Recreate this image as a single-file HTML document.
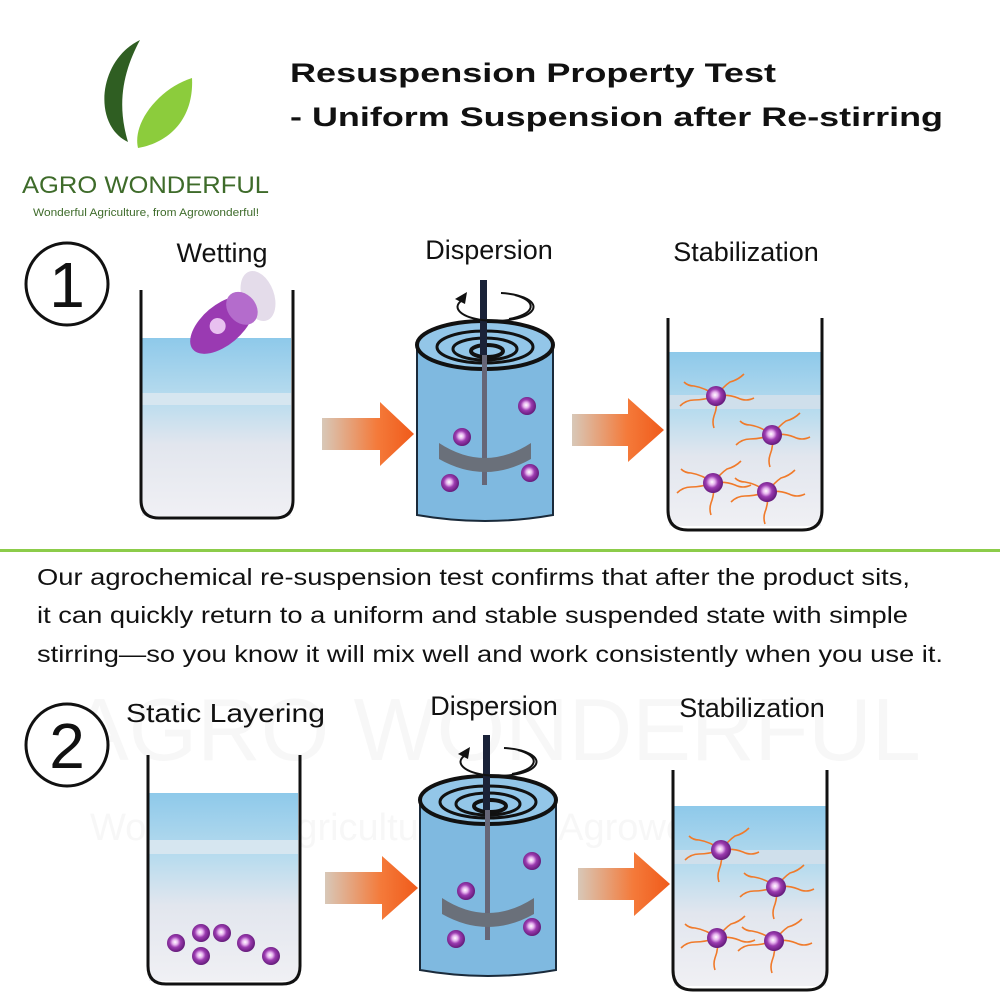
<!DOCTYPE html>
<html><head><meta charset="utf-8"><style>
body{margin:0;background:#fff;}
svg{display:block;font-family:"Liberation Sans",sans-serif;}
</style></head><body>
<svg width="1000" height="1000" viewBox="0 0 1000 1000" xmlns="http://www.w3.org/2000/svg">
<defs>
<radialGradient id="ball" cx="0.45" cy="0.45" r="0.6"><stop offset="0" stop-color="#fff"/><stop offset="0.25" stop-color="#e6b3ee"/><stop offset="0.5" stop-color="#9b3bb0"/><stop offset="1" stop-color="#5a1470"/></radialGradient>
<linearGradient id="arr" x1="0" x2="1"><stop offset="0" stop-color="#d8c8b8"/><stop offset="0.6" stop-color="#f47a3a"/><stop offset="1" stop-color="#f05a1a"/></linearGradient>
<linearGradient id="water" x1="0" y1="0" x2="0" y2="1"><stop offset="0" stop-color="#8ec9ea"/><stop offset="0.35" stop-color="#b9dcee"/><stop offset="0.6" stop-color="#e2e6ee"/><stop offset="1" stop-color="#f0f0f4"/></linearGradient>
<g id="p"><g fill="none" stroke="#f07a2a" stroke-width="1.6"><path d="M0 0 q-10 -8 -22 -10 q-6 0 -10 -4"/><path d="M0 0 q8 -10 14 -14 q8 -2 14 -8"/><path d="M0 0 q12 -2 22 2 q8 4 16 0"/><path d="M0 0 q-12 4 -22 4 q-8 0 -14 6"/><path d="M0 0 q2 10 -2 20 q-2 6 0 12"/></g><circle r="10" fill="url(#ball)"/></g>
<circle id="b" r="9" fill="url(#ball)"/>
<g id="cyl">
<path d="M0 0 v170 q68 12 136 0 v-170 z" fill="#7fb9e0" stroke="#1a2a3a" stroke-width="2"/>
<ellipse cx="68" cy="0" rx="68" ry="24" fill="#93c6e8" stroke="#111" stroke-width="4"/>
<ellipse cx="68" cy="2" rx="48" ry="16" fill="none" stroke="#111" stroke-width="3"/>
<ellipse cx="68" cy="4" rx="32" ry="11" fill="none" stroke="#111" stroke-width="3"/>
<ellipse cx="70" cy="6" rx="16" ry="6" fill="none" stroke="#111" stroke-width="4"/>
<rect x="65" y="10" width="5" height="130" fill="#667"/>
<path d="M22 98 q46 30 92 0 v16 q-46 26 -92 0 z" fill="#6a707a"/>
<rect x="63" y="-65" width="7" height="75" fill="#1a2238"/>
<path d="M44 -44 a38 14 0 1 0 40 -8" fill="none" stroke="#111" stroke-width="2"/>
<path d="M98 -50 a38 14 0 0 1 -6 24" fill="none" stroke="#111" stroke-width="2"/>
<path d="M38 -46 l12 -7 l-2 12 z" fill="#111"/>
</g>
</defs>
<!-- watermark -->
<text x="70" y="760" font-size="88" fill="#f7f7f7">AGRO WONDERFUL</text>
<text x="90" y="840" font-size="38" fill="#f7f7f7">Wonderful Agriculture, from Agrowonderful!</text>
<!-- logo -->
<path d="M140 40 C98 60 92 125 128 142 C116 102 124 70 140 40z" fill="#2f5e22"/>
<path d="M192 78 C160 88 132 122 138 148 C172 142 194 116 192 78z" fill="#8ccc3c"/>
<text x="22" y="193" font-size="24" fill="#3e6b2a" textLength="247" lengthAdjust="spacingAndGlyphs">AGRO WONDERFUL</text>
<text x="33" y="216" font-size="11" fill="#3e6b2a" textLength="226" lengthAdjust="spacingAndGlyphs">Wonderful Agriculture, from Agrowonderful!</text>
<text x="290" y="82" font-size="27" font-weight="bold" fill="#111" textLength="486" lengthAdjust="spacingAndGlyphs">Resuspension Property Test</text>
<text x="290" y="126" font-size="27" font-weight="bold" fill="#111" textLength="653" lengthAdjust="spacingAndGlyphs">- Uniform Suspension after Re-stirring</text>
<!-- section 1 -->
<circle cx="67" cy="284" r="41" fill="#fff" stroke="#111" stroke-width="3"/>
<text x="67" y="307" font-size="64" text-anchor="middle" fill="#111">1</text>
<text x="222" y="262" font-size="27" text-anchor="middle" fill="#111">Wetting</text>
<text x="489" y="259" font-size="27" text-anchor="middle" fill="#111">Dispersion</text>
<text x="746" y="261" font-size="27" text-anchor="middle" fill="#111">Stabilization</text>
<rect x="142" y="338" width="149" height="178" fill="url(#water)"/>
<rect x="142" y="393" width="149" height="12" fill="#d6e6f0"/>
<path d="M141 290 V500 q0 18 18 18 h116 q18 0 18 -18 V290" fill="none" stroke="#111" stroke-width="3"/>
<ellipse cx="258" cy="296" rx="16" ry="26" fill="#e4dcea" transform="rotate(-20 258 296)"/>
<g transform="translate(222 325) rotate(50)"><ellipse cx="0" cy="0" rx="20" ry="38" fill="#9a3ab2"/><ellipse cx="0" cy="-26" rx="18" ry="14" fill="#b46ccc"/><circle cx="-2" cy="4" r="8" fill="#e8c0f0"/></g>
<polygon points="322,418 380,418 380,402 414,434 380,466 380,450 322,450" fill="url(#arr)"/>
<use href="#cyl" x="417" y="345"/>
<use href="#b" x="527" y="406"/><use href="#b" x="462" y="437"/><use href="#b" x="530" y="473"/><use href="#b" x="450" y="483"/>
<polygon points="572,414 628,414 628,398 664,430 628,462 628,446 572,446" fill="url(#arr)"/>
<rect x="669" y="352" width="152" height="174" fill="url(#water)"/>
<rect x="669" y="395" width="152" height="14" fill="#cfdfeb"/>
<path d="M668 318 V510 q0 20 20 20 h114 q20 0 20 -20 V318" fill="none" stroke="#111" stroke-width="3"/>
<use href="#p" x="716" y="396"/><use href="#p" x="772" y="435"/><use href="#p" x="713" y="483"/><use href="#p" x="767" y="492"/>
<rect x="0" y="549" width="1000" height="3" fill="#8ccc4a"/>
<g font-size="23" fill="#111">
<text x="37" y="585" textLength="873" lengthAdjust="spacingAndGlyphs">Our agrochemical re-suspension test confirms that after the product sits,</text>
<text x="37" y="623" textLength="871" lengthAdjust="spacingAndGlyphs">it can quickly return to a uniform and stable suspended state with simple</text>
<text x="37" y="662" textLength="906" lengthAdjust="spacingAndGlyphs">stirring—so you know it will mix well and work consistently when you use it.</text>
</g>
<!-- section 2 -->
<circle cx="67" cy="745" r="41" fill="#fff" stroke="#111" stroke-width="3"/>
<text x="67" y="768" font-size="64" text-anchor="middle" fill="#111">2</text>
<text x="126" y="722" font-size="26" fill="#111" textLength="199" lengthAdjust="spacingAndGlyphs">Static Layering</text>
<text x="494" y="715" font-size="27" text-anchor="middle" fill="#111">Dispersion</text>
<text x="752" y="717" font-size="27" text-anchor="middle" fill="#111">Stabilization</text>
<rect x="149" y="793" width="149" height="188" fill="url(#water)"/>
<rect x="149" y="840" width="149" height="14" fill="#d6e6f0"/>
<path d="M148 755 V966 q0 18 18 18 h116 q18 0 18 -18 V755" fill="none" stroke="#111" stroke-width="3"/>
<use href="#b" x="176" y="943"/><use href="#b" x="201" y="933"/><use href="#b" x="222" y="933"/><use href="#b" x="246" y="943"/><use href="#b" x="201" y="956"/><use href="#b" x="271" y="956"/>
<polygon points="325,872 382,872 382,856 418,888 382,920 382,904 325,904" fill="url(#arr)"/>
<use href="#cyl" x="420" y="800"/>
<use href="#b" x="532" y="861"/><use href="#b" x="466" y="891"/><use href="#b" x="532" y="927"/><use href="#b" x="456" y="939"/>
<polygon points="578,868 634,868 634,852 670,884 634,916 634,900 578,900" fill="url(#arr)"/>
<rect x="674" y="806" width="152" height="180" fill="url(#water)"/>
<rect x="674" y="850" width="152" height="14" fill="#cfdfeb"/>
<path d="M673 770 V970 q0 20 20 20 h114 q20 0 20 -20 V770" fill="none" stroke="#111" stroke-width="3"/>
<use href="#p" x="721" y="850"/><use href="#p" x="776" y="887"/><use href="#p" x="717" y="938"/><use href="#p" x="774" y="941"/>
</svg>
</body></html>
